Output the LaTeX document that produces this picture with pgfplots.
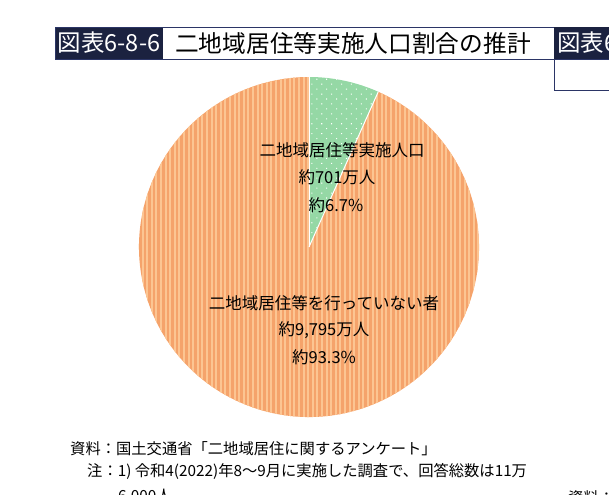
\documentclass[border=0pt]{standalone}
\usepackage{fontspec}
\setmainfont{Noto Sans CJK JP}
\usepackage{pgfplots}
\pgfplotsset{compat=1.18}
\usepackage{pgfplotstable}
\usetikzlibrary{patterns.meta}

\definecolor{navy}{HTML}{1B2240}
\definecolor{boxline}{HTML}{2B3566}
\definecolor{orA}{HTML}{F5A36B}
\definecolor{orB}{HTML}{FCC592}
\definecolor{grn}{HTML}{95D8A5}

\pgfplotstableread{
group value
kyoju 701
other 9795
}\piedata

\begin{document}
\begin{tikzpicture}
\pgfplotstablegetelem{0}{value}\of\piedata \let\va\pgfplotsretval
\pgfplotstablegetelem{1}{value}\of\piedata \let\vb\pgfplotsretval
\pgfmathsetmacro\fracA{\va/(\va+\vb)}
\pgfmathsetmacro\angA{360*\fracA}
\pgfmathsetmacro\angB{90-\angA}
\path[use as bounding box, clip] (0,0) rectangle (609bp,-495bp);
\begin{axis}[at={(0,0)}, anchor=north west, width=609bp, height=495bp,
  scale only axis, hide axis, xmin=0, xmax=609, ymin=0, ymax=495,
  y dir=reverse, clip=false]
% ---- title boxes
\fill[white] (axis cs:55,27) rectangle (axis cs:554,59);
\fill[navy] (axis cs:55,27) rectangle (axis cs:163,59);
\draw[boxline, line width=1bp] (axis cs:55,27) rectangle (axis cs:554,59);
\node[anchor=center, text=white, inner sep=0, font=\fontsize{23.5bp}{26bp}\selectfont] at (axis cs:109,43) {図表6-8-6};
\node[anchor=west, inner sep=0, font=\fontsize{23.7bp}{26bp}\selectfont] at (axis cs:175,43) {二地域居住等実施人口割合の推計};
\fill[navy] (axis cs:554,27) rectangle (axis cs:640,59);
\draw[boxline, line width=1bp] (axis cs:554,59) rectangle (axis cs:640,90);
\node[anchor=west, text=white, inner sep=0, font=\fontsize{23.5bp}{26bp}\selectfont] at (axis cs:557,43) {図表6-8-7};
% ---- pie
\fill[orA] (axis cs:309,247) -- ++(\angB:170bp) arc[start angle=\angB, end angle=-270, radius=170bp] -- cycle;
\fill[pattern={Lines[angle=90,distance=4.6bp,line width=1.9bp]}, pattern color=orB] (axis cs:309,247) -- ++(\angB:170bp) arc[start angle=\angB, end angle=-270, radius=170bp] -- cycle;
\fill[grn] (axis cs:309,247) -- ++(90:170bp) arc[start angle=90, end angle=\angB, radius=170bp] -- cycle;
\fill[pattern={Dots[distance=7bp,radius=0.75bp,angle=45]}, pattern color=white] (axis cs:309,247) -- ++(90:170bp) arc[start angle=90, end angle=\angB, radius=170bp] -- cycle;
\draw[white, line width=1bp] (axis cs:309,247) -- ++(90:170bp);
\draw[white, line width=1bp] (axis cs:309,247) -- ++(\angB:170bp);
% ---- slice labels
\begin{scope}[every node/.style={anchor=center, inner sep=0, font=\fontsize{16.5bp}{20bp}\selectfont}]
\node at (axis cs:342,150) {二地域居住等実施人口};
\node at (axis cs:337,177) {約701万人};
\node at (axis cs:336,205) {約6.7\%};
\node at (axis cs:324,303) {二地域居住等を行っていない者};
\node at (axis cs:324,330) {約9,795万人};
\node at (axis cs:324,357) {約93.3\%};
\end{scope}
% ---- notes
\begin{scope}[every node/.style={anchor=west, inner sep=0, font=\fontsize{15.3bp}{18bp}\selectfont}]
\node at (axis cs:70,449) {資料：国土交通省「二地域居住に関するアンケート」};
\node at (axis cs:87,471) {注：1) 令和4(2022)年8～9月に実施した調査で、回答総数は11万};
\node at (axis cs:118,497) {6,000人};
\node at (axis cs:568,498) {資料：国土交通省};
\end{scope}
\end{axis}
\end{tikzpicture}
\end{document}
